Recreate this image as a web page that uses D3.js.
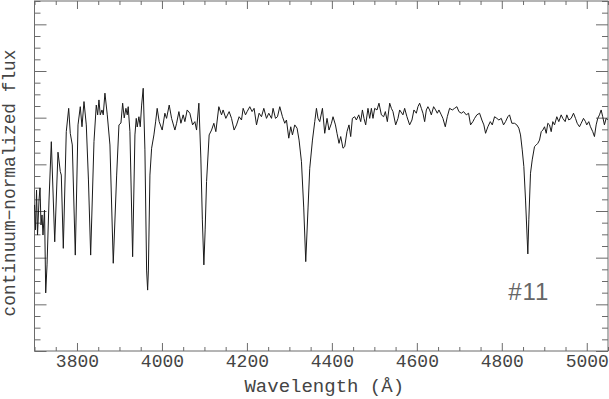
<!DOCTYPE html>
<html>
<head>
<meta charset="utf-8">
<script src="https://cdn.jsdelivr.net/npm/d3@7"></script>
<style>
  body { margin: 0; background: #fff; }
  svg { display: block; }
</style>
</head>
<body>
<div id="spectrum"></div>
<script>
// wavelength (Angstrom) and continuum-normalized flux
var wavelength = [3700.1, 3702.4, 3704.8, 3707.1, 3710.6, 3713.0, 3715.3, 3717.7, 3720.0, 3723.6,
  3726.4, 3729.5, 3734.2, 3739.6, 3747.6, 3755.3, 3760.7, 3763.1, 3767.8, 3774.8,
  3780.5, 3784.2, 3789.0, 3796.0, 3802.4, 3807.8, 3811.8, 3816.5, 3821.9, 3827.0,
  3832.2, 3840.0, 3845.4, 3848.7, 3851.7, 3854.8, 3858.8, 3861.8, 3865.8, 3871.3,
  3877.6, 3885.4, 3893.4, 3898.8, 3903.5, 3907.5, 3911.2, 3915.2, 3918.3, 3920.6,
  3924.6, 3931.0, 3936.4, 3939.5, 3941.8, 3945.8, 3948.9, 3952.2, 3955.9, 3959.9,
  3963.9, 3966.3, 3968.1, 3971.7, 3975.7, 3981.1, 3985.1, 3988.8, 3993.5, 4000.6,
  4006.9, 4010.9, 4017.1, 4022.7, 4030.5, 4034.5, 4039.9, 4044.6, 4050.0, 4054.0,
  4059.4, 4065.7, 4072.1, 4077.5, 4081.5, 4086.9, 4091.6, 4095.1, 4098.7, 4101.7,
  4105.0, 4111.1, 4116.8, 4122.2, 4126.9, 4133.9, 4140.3, 4144.0, 4150.4, 4158.2,
  4163.8, 4169.9, 4175.6, 4181.7, 4187.3, 4191.1, 4196.7, 4200.5, 4206.8, 4212.2,
  4216.9, 4222.6, 4228.7, 4234.3, 4239.8, 4246.1, 4251.5, 4257.9, 4261.6, 4267.3,
  4272.0, 4277.4, 4283.7, 4289.1, 4293.1, 4298.5, 4303.2, 4307.2, 4312.6, 4318.1,
  4322.8, 4328.4, 4333.8, 4338.5, 4343.9, 4347.9, 4354.3, 4359.7, 4363.7, 4367.4,
  4371.4, 4377.8, 4383.2, 4388.6, 4393.3, 4399.0, 4402.7, 4408.4, 4412.1, 4416.8,
  4420.8, 4426.2, 4430.2, 4435.6, 4440.3, 4444.3, 4448.3, 4453.8, 4457.7, 4463.2,
  4467.9, 4471.9, 4475.6, 4479.6, 4485.0, 4489.0, 4493.0, 4496.8, 4500.8, 4506.2,
  4510.9, 4516.5, 4521.9, 4525.9, 4530.6, 4536.1, 4540.1, 4543.8, 4550.2, 4555.6,
  4559.6, 4567.3, 4571.3, 4576.7, 4583.1, 4588.5, 4593.2, 4598.8, 4602.6, 4606.6,
  4610.6, 4614.4, 4618.4, 4622.4, 4626.1, 4630.1, 4634.1, 4639.5, 4644.2, 4648.2,
  4652.0, 4657.6, 4661.4, 4667.0, 4671.7, 4677.1, 4683.5, 4688.9, 4694.3, 4699.0,
  4704.7, 4710.1, 4716.4, 4721.8, 4726.5, 4731.9, 4735.9, 4741.3, 4747.7, 4753.1,
  4757.8, 4761.8, 4767.2, 4772.9, 4777.6, 4783.0, 4788.4, 4793.1, 4798.7, 4804.1,
  4808.8, 4814.2, 4818.2, 4823.7, 4830.0, 4835.4, 4840.1, 4844.1, 4848.1, 4851.9,
  4855.9, 4859.9, 4861.3, 4863.6, 4867.6, 4871.6, 4877.0, 4881.0, 4884.8, 4888.8,
  4892.8, 4896.6, 4900.6, 4904.6, 4908.3, 4912.3, 4916.3, 4920.1, 4924.1, 4929.5,
  4934.2, 4939.8, 4943.6, 4949.2, 4953.0, 4957.7, 4963.3, 4968.8, 4973.5, 4977.5,
  4982.9, 4986.9, 4992.3, 4997.0, 5000.0, 5004.7, 5008.7, 5014.1, 5018.1, 5022.1,
  5025.9, 5029.9, 5033.9, 5037.6, 5041.6, 5045.6, 5049.4];

var flux = [0.626, 0.519, 0.690, 0.497, 0.647, 0.699, 0.540, 0.583, 0.497, 0.604,
  0.249, 0.369, 0.647, 0.897, 0.468, 0.852, 0.769, 0.754, 0.440, 0.940,
  1.040, 0.933, 0.883, 0.411, 0.969, 1.047, 0.961, 1.069, 0.969, 0.733,
  0.411, 0.897, 1.054, 1.012, 1.076, 1.012, 1.033, 1.012, 1.105, 1.012,
  0.883, 0.376, 0.754, 0.969, 0.977, 1.062, 0.999, 1.040, 1.012, 1.047,
  0.940, 0.404, 0.926, 0.997, 0.960, 1.004, 0.961, 1.054, 1.126, 0.862,
  0.347, 0.261, 0.347, 0.754, 0.869, 0.926, 0.982, 1.040, 0.983, 0.947,
  1.019, 0.997, 1.054, 0.997, 0.947, 0.976, 1.026, 0.976, 1.012, 0.983,
  1.033, 1.019, 0.969, 0.983, 0.947, 1.062, 0.827, 0.562, 0.369, 0.519,
  0.726, 0.926, 0.947, 0.976, 0.940, 1.047, 1.012, 1.033, 0.997, 1.026,
  0.997, 0.947, 0.969, 1.004, 0.990, 1.040, 1.012, 1.026, 1.047, 1.026,
  1.040, 0.969, 1.019, 1.004, 1.040, 0.997, 1.019, 0.997, 1.040, 0.997,
  1.004, 1.047, 1.004, 0.976, 0.990, 0.912, 0.961, 0.926, 0.969, 0.955,
  0.904, 0.811, 0.613, 0.383, 0.613, 0.783, 0.904, 0.983, 1.040, 0.997,
  0.983, 1.040, 0.933, 0.997, 0.947, 0.976, 1.004, 0.969, 0.933, 0.890,
  0.919, 0.869, 0.876, 0.940, 0.969, 0.919, 0.997, 1.004, 0.990, 1.012,
  0.983, 1.033, 0.997, 0.969, 1.040, 0.997, 1.040, 0.997, 1.040, 1.033,
  1.062, 1.012, 1.004, 1.026, 0.983, 1.062, 1.040, 1.026, 0.969, 0.997,
  1.033, 1.012, 1.040, 1.004, 0.969, 0.990, 1.033, 1.019, 1.047, 1.062,
  1.040, 1.019, 0.983, 1.033, 1.047, 1.033, 1.012, 1.047, 1.033, 1.019,
  1.033, 1.012, 0.997, 0.961, 1.004, 1.040, 1.033, 1.040, 1.047, 1.026,
  1.019, 1.026, 1.012, 1.019, 0.969, 0.983, 0.997, 1.012, 1.019, 0.990,
  0.969, 0.933, 0.961, 0.983, 0.969, 1.004, 0.997, 0.990, 0.997, 0.969,
  0.983, 1.004, 1.012, 0.976, 0.976, 0.969, 0.955, 0.926, 0.862, 0.790,
  0.647, 0.476, 0.416, 0.562, 0.762, 0.819, 0.876, 0.883, 0.890, 0.904,
  0.940, 0.947, 0.961, 0.933, 0.976, 0.969, 0.940, 0.983, 0.969, 1.004,
  0.983, 1.012, 0.997, 0.983, 1.012, 0.990, 0.997, 1.019, 0.997, 0.976,
  0.961, 0.976, 0.997, 0.983, 0.969, 0.983, 0.961, 0.940, 0.919, 0.969,
  0.997, 1.012, 1.033, 1.004, 0.969, 0.997, 0.990];

// axis ticks
var xMajorTicks = [3800, 4000, 4200, 4400, 4600, 4800, 5000];
var xTickLabels = ["3800", "4000", "4200", "4400", "4600", "4800", "5000"];
var xMinorStep = 50;
var yMajorTicks = [0, 0.2, 0.4, 0.6, 0.8, 1.0, 1.2, 1.4];
var yMinorStep = 0.05;

var xDomain = [3700, 5050];
var yDomain = [0, 1.5];
var starLabel = "#11";

var svgWidth = 609;
var svgHeight = 399;
var margin = {top: 1, right: 1, bottom: 48, left: 34.5},
  width = svgWidth - margin.left - margin.right,
  height = svgHeight - margin.top - margin.bottom;

var svg = d3.select("#spectrum")
  .append("svg")
  .attr("width", svgWidth)
  .attr("height", svgHeight);

var chartGroup = svg.append("g")
  .attr("transform", `translate(${margin.left}, ${margin.top})`);

var x = d3.scaleLinear().domain(xDomain).range([0, width]);
var y = d3.scaleLinear().domain(yDomain).range([height, 0]);

var xMinor = d3.range(xDomain[0], xDomain[1] + 1, xMinorStep)
  .filter(d => xMajorTicks.indexOf(d) < 0);
var yMinor = d3.range(0, 60).map(i => +(i * yMinorStep).toFixed(2))
  .filter(d => d <= yDomain[1] && yMajorTicks.indexOf(d) < 0);

var axisColor = "#6b6b6b";
var textColor = "#444";

function styleAxis(g) {
  g.select(".domain").remove();
  g.selectAll(".tick line").attr("stroke", axisColor);
}

// bottom axis with labels, ticks pointing inward
chartGroup.append("g")
  .attr("transform", `translate(0, ${height})`)
  .call(d3.axisBottom(x).tickValues(xMajorTicks).tickSize(-8).tickPadding(3.5)
    .tickFormat((d, i) => xTickLabels[i]))
  .call(styleAxis)
  .selectAll("text")
  .attr("font-family", "'Liberation Mono', monospace")
  .attr("font-size", "18px")
  .attr("fill", textColor);

chartGroup.append("g")
  .attr("transform", `translate(0, ${height})`)
  .call(d3.axisBottom(x).tickValues(xMinor).tickSize(-4).tickFormat(""))
  .call(styleAxis);

// top axis, ticks only
chartGroup.append("g")
  .call(d3.axisTop(x).tickValues(xMajorTicks).tickSize(-8).tickFormat(""))
  .call(styleAxis);
chartGroup.append("g")
  .call(d3.axisTop(x).tickValues(xMinor).tickSize(-4).tickFormat(""))
  .call(styleAxis);

// left and right axes, ticks only
chartGroup.append("g")
  .call(d3.axisLeft(y).tickValues(yMajorTicks).tickSize(-12).tickFormat(""))
  .call(styleAxis);
chartGroup.append("g")
  .call(d3.axisLeft(y).tickValues(yMinor).tickSize(-6).tickFormat(""))
  .call(styleAxis);
chartGroup.append("g")
  .attr("transform", `translate(${width}, 0)`)
  .call(d3.axisRight(y).tickValues(yMajorTicks).tickSize(-12).tickFormat(""))
  .call(styleAxis);
chartGroup.append("g")
  .attr("transform", `translate(${width}, 0)`)
  .call(d3.axisRight(y).tickValues(yMinor).tickSize(-6).tickFormat(""))
  .call(styleAxis);

// frame
chartGroup.append("rect")
  .attr("x", 0)
  .attr("y", 0)
  .attr("width", width)
  .attr("height", height)
  .attr("fill", "none")
  .attr("stroke", axisColor)
  .attr("stroke-width", 1);

// the spectrum
var line = d3.line()
  .x((d, i) => x(wavelength[i]))
  .y(d => y(d));

chartGroup.append("path")
  .datum(flux)
  .attr("d", line)
  .attr("fill", "none")
  .attr("stroke", "#1a1a1a")
  .attr("stroke-width", 1)
  .attr("stroke-linejoin", "round");

// star label
chartGroup.append("text")
  .attr("x", x(4862) - 20)
  .attr("y", y(0.219))
  .attr("font-family", "'Liberation Sans', sans-serif")
  .attr("font-size", "24px")
  .attr("letter-spacing", "1px")
  .attr("fill", "#666")
  .text(starLabel);

// axis titles
svg.append("text")
  .attr("x", margin.left + width / 2 + 3)
  .attr("y", 392)
  .attr("text-anchor", "middle")
  .attr("font-family", "'Liberation Mono', monospace")
  .attr("font-size", "19px")
  .attr("fill", textColor)
  .text("Wavelength (Å)");

svg.append("text")
  .attr("transform", "translate(15, 183) rotate(-90)")
  .attr("text-anchor", "middle")
  .attr("font-family", "'Liberation Mono', monospace")
  .attr("font-size", "17.8px")
  .attr("fill", textColor)
  .text("continuum−normalized flux");
</script>
</body>
</html>
